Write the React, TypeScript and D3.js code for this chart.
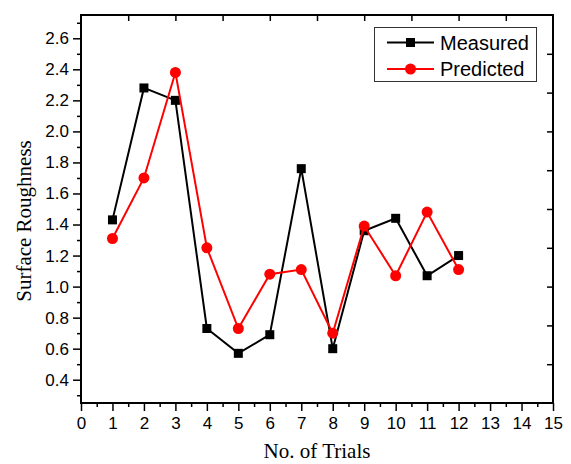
import React, { useEffect, useRef } from 'react';
import * as d3 from 'd3';

const trials = [1, 2, 3, 4, 5, 6, 7, 8, 9, 10, 11, 12];
const measured = [1.43, 2.28, 2.2, 0.73, 0.57, 0.69, 1.76, 0.6, 1.36, 1.44, 1.07, 1.2];
const predicted = [1.31, 1.7, 2.38, 1.25, 0.73, 1.08, 1.11, 0.7, 1.39, 1.07, 1.48, 1.11];
const xTicks = d3.range(0, 16);
const yTicks = [0.4, 0.6, 0.8, 1.0, 1.2, 1.4, 1.6, 1.8, 2.0, 2.2, 2.4, 2.6];

const App = () => {
  const svgRef = useRef<SVGSVGElement>(null);

  useEffect(() => {
    const width = 571;
    const height = 464;
    const margin = { top: 15, right: 18, bottom: 61, left: 81 };

    const svg = d3.select(svgRef.current);
    svg.selectAll('*').remove();

    const x = d3
      .scaleLinear()
      .domain([0, 15])
      .range([margin.left, width - margin.right]);

    const y = d3
      .scaleLinear()
      .domain([0.25, 2.75])
      .range([height - margin.bottom, margin.top]);

    const tickFont = '"Liberation Sans", Arial, sans-serif';
    const titleFont = '"Liberation Serif", "Times New Roman", serif';

    // bottom axis
    const xAxis = svg
      .append('g')
      .attr('transform', `translate(0,${height - margin.bottom})`)
      .call(
        d3.axisBottom(x).tickValues(xTicks).tickSize(8).tickSizeOuter(0).tickFormat(d3.format('d'))
      );
    xAxis.select('.domain').remove();
    xAxis.selectAll('line').attr('stroke', '#000').attr('stroke-width', 1.5);
    xAxis
      .selectAll('text')
      .attr('font-family', tickFont)
      .attr('font-size', 17)
      .attr('fill', '#000')
      .attr('dy', '0.9em');

    const xMinor = svg
      .append('g')
      .attr('transform', `translate(0,${height - margin.bottom})`)
      .call(d3.axisBottom(x).tickValues(d3.range(0.5, 15, 1)).tickSize(4).tickFormat(() => ''));
    xMinor.select('.domain').remove();
    xMinor.selectAll('line').attr('stroke', '#000').attr('stroke-width', 1.5);

    // left axis
    const yAxis = svg
      .append('g')
      .attr('transform', `translate(${margin.left},0)`)
      .call(d3.axisLeft(y).tickValues(yTicks).tickSize(8).tickFormat(d3.format('.1f')));
    yAxis.select('.domain').remove();
    yAxis.selectAll('line').attr('stroke', '#000').attr('stroke-width', 1.5);
    yAxis
      .selectAll('text')
      .attr('font-family', tickFont)
      .attr('font-size', 17)
      .attr('fill', '#000')
      .attr('x', -12);

    const yMinor = svg
      .append('g')
      .attr('transform', `translate(${margin.left},0)`)
      .call(d3.axisLeft(y).tickValues(d3.range(0.3, 2.75, 0.2)).tickSize(4).tickFormat(() => ''));
    yMinor.select('.domain').remove();
    yMinor.selectAll('line').attr('stroke', '#000').attr('stroke-width', 1.5);

    // top axis (inward ticks)
    const top = svg
      .append('g')
      .attr('transform', `translate(0,${margin.top})`)
      .call(d3.axisBottom(x).tickValues(d3.range(1.5, 15, 1.5)).tickSize(6).tickFormat(() => ''));
    top.select('.domain').remove();
    top.selectAll('line').attr('stroke', '#000').attr('stroke-width', 1.5);

    // right axis (inward ticks)
    const right = svg
      .append('g')
      .attr('transform', `translate(${width - margin.right},0)`)
      .call(d3.axisLeft(y).tickValues(d3.range(0.5, 2.75, 0.25)).tickSize(6).tickFormat(() => ''));
    right.select('.domain').remove();
    right.selectAll('line').attr('stroke', '#000').attr('stroke-width', 1.5);

    // frame
    svg
      .append('rect')
      .attr('x', margin.left)
      .attr('y', margin.top)
      .attr('width', width - margin.left - margin.right)
      .attr('height', height - margin.top - margin.bottom)
      .attr('fill', 'none')
      .attr('stroke', '#000')
      .attr('stroke-width', 2);

    const line = d3
      .line<number>()
      .x((_, i) => x(trials[i]))
      .y((d) => y(d));

    // Measured
    svg
      .append('path')
      .datum(measured)
      .attr('d', line)
      .attr('fill', 'none')
      .attr('stroke', '#000')
      .attr('stroke-width', 2);
    svg
      .selectAll('.sq')
      .data(measured)
      .enter()
      .append('rect')
      .attr('class', 'sq')
      .attr('x', (_, i) => x(trials[i]) - 4.5)
      .attr('y', (d) => y(d) - 4.5)
      .attr('width', 9)
      .attr('height', 9)
      .attr('fill', '#000');

    // Predicted
    svg
      .append('path')
      .datum(predicted)
      .attr('d', line)
      .attr('fill', 'none')
      .attr('stroke', '#ff0000')
      .attr('stroke-width', 2);
    svg
      .selectAll('.dot')
      .data(predicted)
      .enter()
      .append('circle')
      .attr('class', 'dot')
      .attr('cx', (_, i) => x(trials[i]))
      .attr('cy', (d) => y(d))
      .attr('r', 5.5)
      .attr('fill', '#ff0000');

    // legend
    const lg = svg.append('g');
    lg.append('rect')
      .attr('x', 374.5)
      .attr('y', 27.5)
      .attr('width', 162)
      .attr('height', 54)
      .attr('fill', '#fff')
      .attr('stroke', '#333')
      .attr('stroke-width', 1);
    const items = [
      { name: 'Measured', color: '#000', shape: 'square' },
      { name: 'Predicted', color: '#ff0000', shape: 'circle' },
    ];
    items.forEach((it, i) => {
      const cy = 42.5 + i * 26.5;
      lg.append('line')
        .attr('x1', 387)
        .attr('x2', 434)
        .attr('y1', cy)
        .attr('y2', cy)
        .attr('stroke', it.color)
        .attr('stroke-width', 2);
      if (it.shape === 'square') {
        lg.append('rect')
          .attr('x', 410.5 - 4.5)
          .attr('y', cy - 4.5)
          .attr('width', 9)
          .attr('height', 9)
          .attr('fill', it.color);
      } else {
        lg.append('circle').attr('cx', 410.5).attr('cy', cy).attr('r', 5.5).attr('fill', it.color);
      }
      lg.append('text')
        .attr('x', 440)
        .attr('y', cy)
        .attr('dy', '0.36em')
        .attr('font-family', tickFont)
        .attr('font-size', 20)
        .attr('fill', '#000')
        .text(it.name);
    });

    // axis titles
    svg
      .append('text')
      .attr('x', (margin.left + width - margin.right) / 2)
      .attr('y', 458)
      .attr('text-anchor', 'middle')
      .attr('font-family', titleFont)
      .attr('font-size', 21)
      .attr('fill', '#000')
      .text('No. of Trials');

    svg
      .append('text')
      .attr('transform', 'rotate(-90)')
      .attr('x', -221)
      .attr('y', 24)
      .attr('dy', '0.35em')
      .attr('text-anchor', 'middle')
      .attr('font-family', titleFont)
      .attr('font-size', 21)
      .attr('fill', '#000')
      .text('Surface Roughness');
  }, []);

  return (
    <svg
      ref={svgRef}
      width={571}
      height={464}
      style={{ position: 'absolute', left: 0, top: 0, background: '#fff' }}
    ></svg>
  );
};

export default App;
